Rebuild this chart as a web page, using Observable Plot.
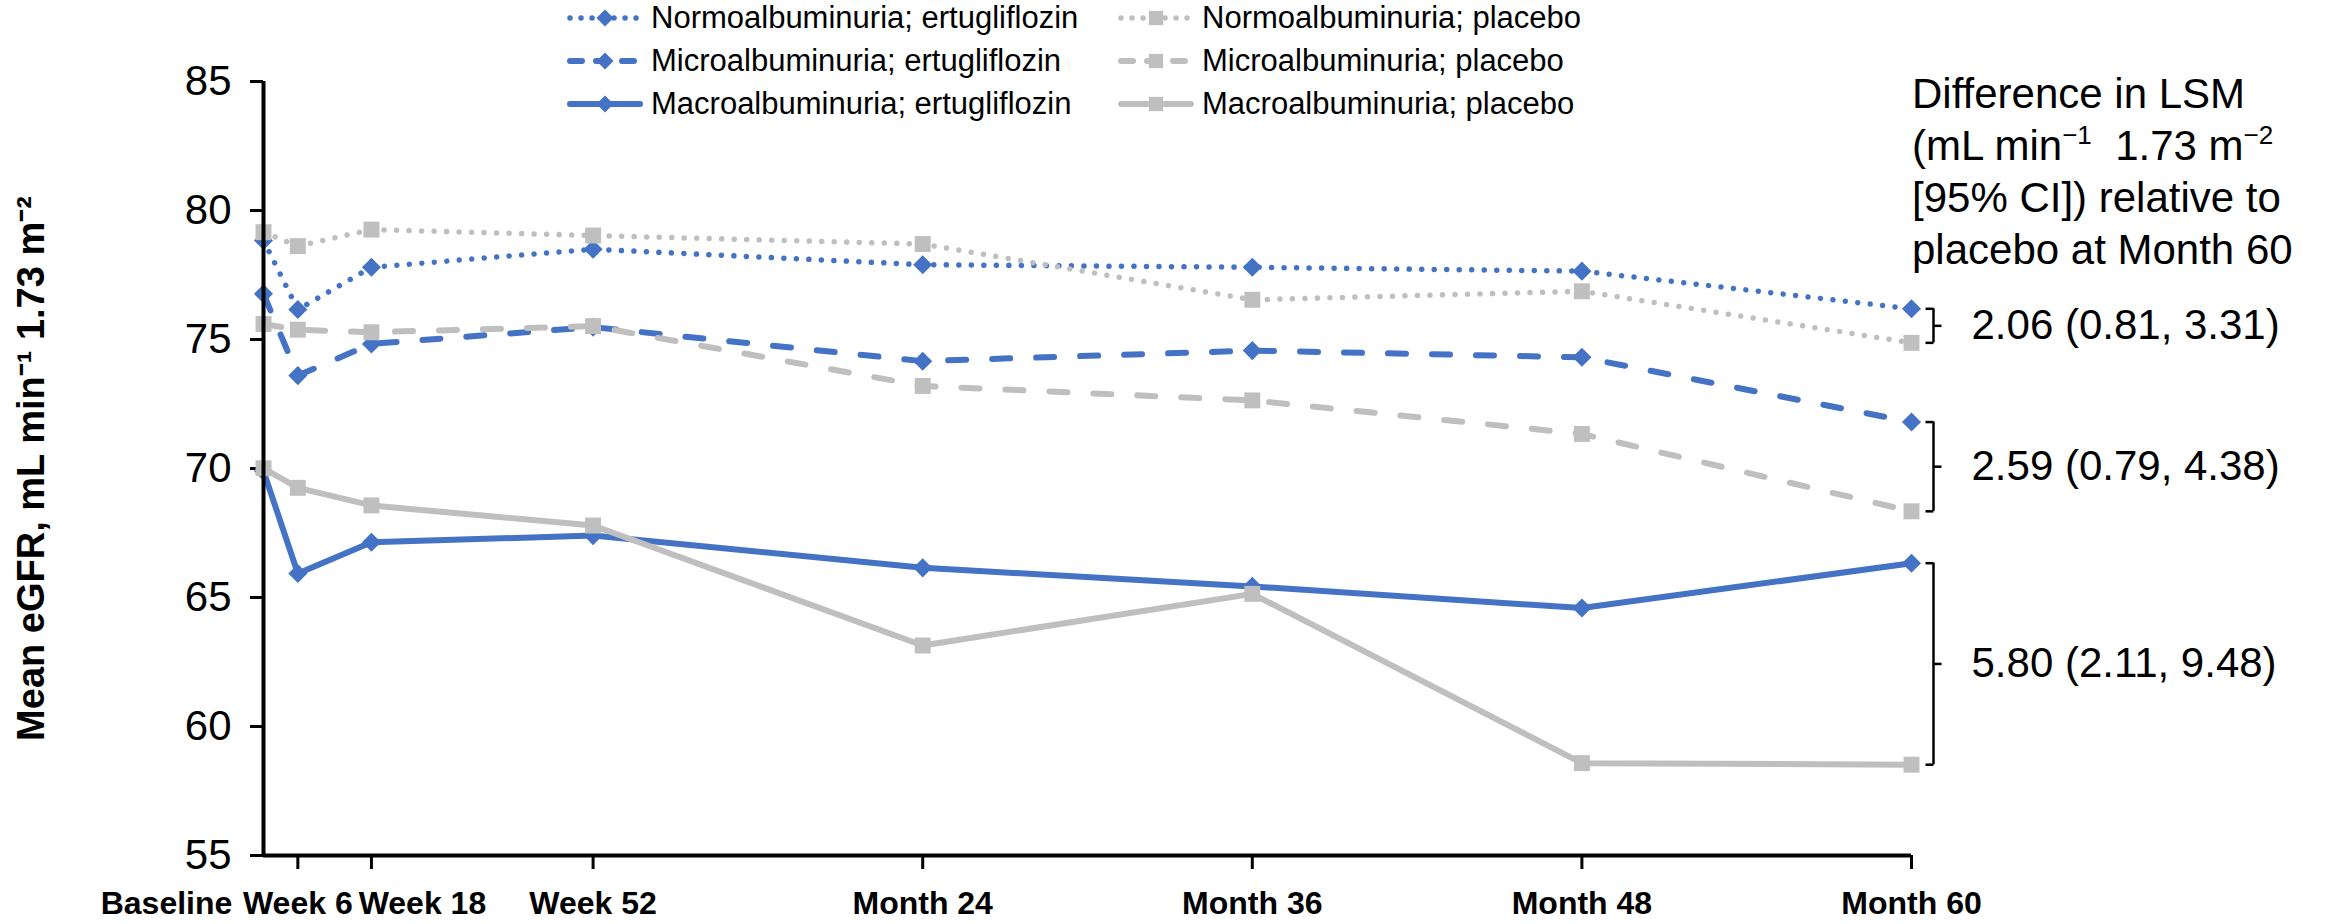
<!DOCTYPE html>
<html><head><meta charset="utf-8">
<script src="https://cdn.jsdelivr.net/npm/d3@7"></script>
<script src="https://cdn.jsdelivr.net/npm/@observablehq/plot@0.6"></script>
<style>
body{margin:0;background:#fff;}
#wrap{position:relative;width:2330px;height:924px;font-family:"Liberation Sans",Arial,sans-serif;color:#000;overflow:hidden}
#chart svg{display:block}
.leg{position:absolute;display:flex;align-items:center;font-size:31px;white-space:pre;height:40px}
.leg svg{margin-right:7px;overflow:visible}
.note{position:absolute;left:1912px;top:68px;font-size:42px;line-height:52px;white-space:pre}
.sup{font-size:0.62em;vertical-align:0.62em;line-height:0}
</style></head>
<body><div id="wrap"><div id="chart"></div></div>
<script>
// ---- data ----
const timeLabels = ["Baseline","Week 6","Week 18","Week 52","Month 24","Month 36","Month 48","Month 60"];
const timeMonths = [0, 1.25, 3.93, 12, 24, 36, 48, 60];
const yTicks = [55, 60, 65, 70, 75, 80, 85];
const groups = ["Normoalbuminuria", "Microalbuminuria", "Macroalbuminuria"];
const arms = ["ertugliflozin", "placebo"];
const normoErtu    = [78.84, 76.16, 77.80, 78.50, 77.90, 77.80, 77.65, 76.19];
const normoPlacebo = [79.16, 78.62, 79.26, 79.03, 78.70, 76.54, 76.87, 74.87];
const microErtu    = [76.77, 73.60, 74.83, 75.48, 74.16, 74.57, 74.31, 71.80];
const microPlacebo = [75.60, 75.38, 75.28, 75.52, 73.20, 72.64, 71.34, 68.34];
const macroErtu    = [69.90, 65.93, 67.14, 67.40, 66.15, 65.43, 64.59, 66.33];
const macroPlacebo = [70.01, 69.25, 68.57, 67.79, 63.14, 65.14, 58.58, 58.52];
const diffLabels = ["2.06 (0.81, 3.31)", "2.59 (0.79, 4.38)", "5.80 (2.11, 9.48)"];
const yTitle = "Mean eGFR, mL min\u207B\u00B9 1.73 m\u207B\u00B2";

// ---- table ----
const seriesValues = {
  "Normoalbuminuria|ertugliflozin": normoErtu,
  "Normoalbuminuria|placebo": normoPlacebo,
  "Microalbuminuria|ertugliflozin": microErtu,
  "Microalbuminuria|placebo": microPlacebo,
  "Macroalbuminuria|ertugliflozin": macroErtu,
  "Macroalbuminuria|placebo": macroPlacebo
};
const rows = [];
for (const g of groups) for (const a of arms) {
  seriesValues[g + "|" + a].forEach((v, i) => rows.push({group: g, arm: a, t: timeMonths[i], v}));
}
const lastIdx = timeMonths.length - 1;
const diffRows = groups.map((g, i) => ({
  t: timeMonths[lastIdx],
  ertu: seriesValues[g + "|ertugliflozin"][lastIdx],
  plac: seriesValues[g + "|placebo"][lastIdx],
  label: diffLabels[i]
})).map(d => ({...d, mid: (d.ertu + d.plac) / 2}));
const tickRows = timeLabels.map((label, i) => ({label, t: timeMonths[i]}));

// ---- styles ----
const armColor = {ertugliflozin: "#4472C4", placebo: "#BFBFBF"};
const armSymbol = {ertugliflozin: "diamond2", placebo: "square"};
const armR = {ertugliflozin: 8.6, placebo: 9};
const groupDash = {Normoalbuminuria: "0.01 12.5", Microalbuminuria: "18 26", Macroalbuminuria: null};
const groupWidth = {Normoalbuminuria: 5.5, Microalbuminuria: 6, Macroalbuminuria: 6};
const font = "Liberation Sans, Arial, sans-serif";

const tickLeft = {draw(ctx, size) { const r = Math.sqrt(size / Math.PI); ctx.moveTo(-r, 0); ctx.lineTo(0, 0); }};
const tickRight = {draw(ctx, size) { const r = Math.sqrt(size / Math.PI); ctx.moveTo(0, 0); ctx.lineTo(r, 0); }};

const marks = [];
for (const a of arms) {
  for (const g of groups) {
    const data = rows.filter(r => r.group === g && r.arm === a);
    marks.push(Plot.line(data, {x: "t", y: "v", stroke: armColor[a], strokeWidth: groupWidth[g],
      strokeDasharray: groupDash[g] || undefined, strokeLinecap: "round", strokeLinejoin: "round"}));
  }
  for (const g of groups) {
    const data = rows.filter(r => r.group === g && r.arm === a);
    marks.push(Plot.dot(data, {x: "t", y: "v", symbol: armSymbol[a], fill: armColor[a], stroke: "none", r: armR[a]}));
  }
}

const xLab = {x: "t", text: "label", frameAnchor: "bottom", lineAnchor: "top", dy: 36, fontSize: 32, fontWeight: "bold"};

const chart = Plot.plot({
  width: 2330, height: 924,
  marginLeft: 263, marginRight: 419, marginTop: 81, marginBottom: 69,
  x: {domain: [0, 60], label: null},
  y: {domain: [55, 85], label: null},
  style: {fontFamily: font, background: "white", color: "black", overflow: "visible"},
  marks: [
    Plot.axisY({ticks: yTicks, tickSize: 13, tickPadding: 19, fontSize: 42, label: null, strokeWidth: 3, tickFormat: d => String(d)}),
    Plot.axisX({ticks: timeMonths.slice(1), tickSize: 14, tickFormat: () => "", label: null, strokeWidth: 3}),
    Plot.text(tickRows.filter(d => d.label !== "Baseline" && d.label !== "Week 18"), xLab),
    Plot.text(tickRows.filter(d => d.label === "Baseline"), {...xLab, dx: -97}),
    Plot.text(tickRows.filter(d => d.label === "Week 18"), {...xLab, dx: 51}),
    Plot.text([yTitle], {text: d => d, frameAnchor: "left", textAnchor: "middle", lineAnchor: "middle", rotate: -90, dx: -232, fontSize: 38, fontWeight: "bold"}),
    ...marks,
    Plot.ruleX([0], {stroke: "black", strokeWidth: 4}),
    Plot.ruleY([55], {stroke: "black", strokeWidth: 4}),
    Plot.ruleX(diffRows, {x: "t", y1: "ertu", y2: "plac", dx: 22, stroke: "black", strokeWidth: 2.5}),
    Plot.dot(diffRows, {x: "t", y: "ertu", dx: 22, symbol: tickLeft, r: 8, stroke: "black", strokeWidth: 2.5, fill: "none"}),
    Plot.dot(diffRows, {x: "t", y: "plac", dx: 22, symbol: tickLeft, r: 8, stroke: "black", strokeWidth: 2.5, fill: "none"}),
    Plot.dot(diffRows, {x: "t", y: "mid", dx: 22, symbol: tickRight, r: 8, stroke: "black", strokeWidth: 2.5, fill: "none"}),
    Plot.text(diffRows, {x: "t", y: "mid", text: "label", dx: 60, textAnchor: "start", lineAnchor: "middle", fontSize: 42})
  ]
});
document.getElementById("chart").appendChild(chart);

// ---- legend (HTML overlay) ----
const wrap = document.getElementById("wrap");
const colLeft = [566, 1117];
arms.forEach((a, ci) => {
  groups.forEach((g, ri) => {
    const div = document.createElement("div");
    div.className = "leg";
    div.style.left = colLeft[ci] + "px";
    div.style.top = (18 + ri * 43 - 20) + "px";
    const ns = "http://www.w3.org/2000/svg";
    const svg = document.createElementNS(ns, "svg");
    svg.setAttribute("width", 78); svg.setAttribute("height", 24);
    const line = document.createElementNS(ns, "line");
    line.setAttribute("x1", 4); line.setAttribute("x2", 74); line.setAttribute("y1", 12); line.setAttribute("y2", 12);
    line.setAttribute("stroke", armColor[a]); line.setAttribute("stroke-width", groupWidth[g]);
    line.setAttribute("stroke-linecap", "round");
    if (g === "Normoalbuminuria") line.setAttribute("stroke-dasharray", "0.01 11");
    if (g === "Microalbuminuria") line.setAttribute("stroke-dasharray", "12 14");
    svg.appendChild(line);
    const sym = document.createElementNS(ns, "path");
    sym.setAttribute("d", d3.symbol(a === "ertugliflozin" ? d3.symbolDiamond2 : d3.symbolSquare, Math.PI * armR[a] * armR[a] * 0.8)());
    sym.setAttribute("transform", "translate(39,12)");
    sym.setAttribute("fill", armColor[a]);
    svg.appendChild(sym);
    div.appendChild(svg);
    const span = document.createElement("span");
    span.textContent = g + "; " + a;
    div.appendChild(span);
    wrap.appendChild(div);
  });
});

// ---- header note ----
const note = document.createElement("div");
note.className = "note";
note.innerHTML = 'Difference in LSM<br>(mL min<span class="sup">\u22121</span>  1.73 m<span class="sup">\u22122</span><br>[95% CI]) relative to<br>placebo at Month 60';
wrap.appendChild(note);
</script>
</body></html>
